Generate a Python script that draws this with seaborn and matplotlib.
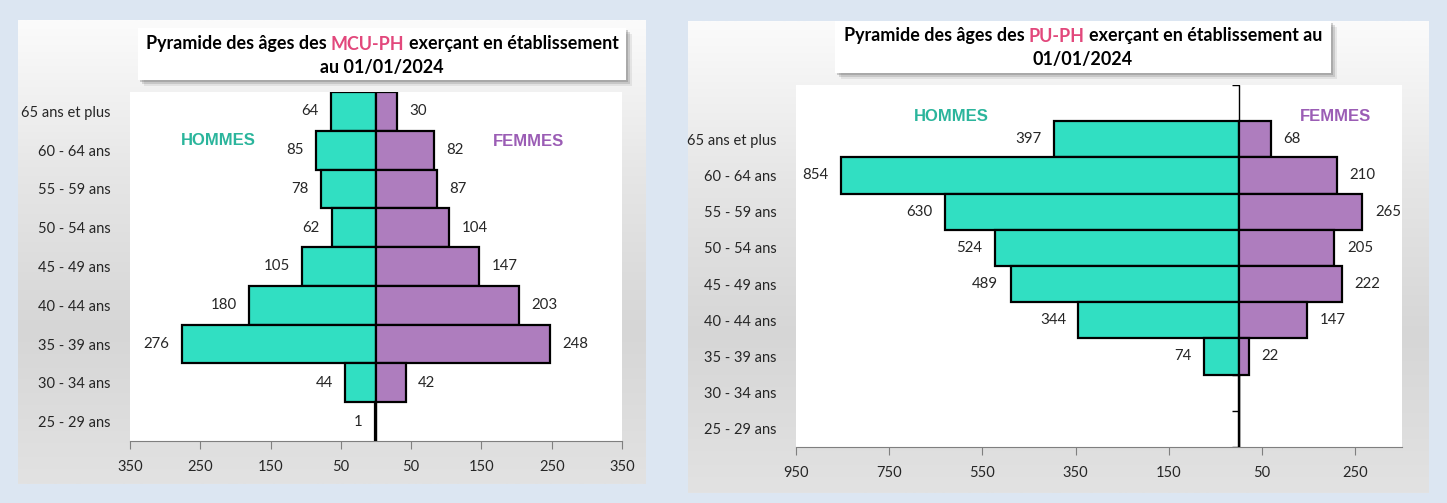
import numpy as np
import pandas as pd
import matplotlib.pyplot as plt
import seaborn as sns
from matplotlib.patches import Rectangle
from matplotlib.colors import LinearSegmentedColormap

ages = ["65 ans et plus", "60 - 64 ans", "55 - 59 ans", "50 - 54 ans", "45 - 49 ans",
        "40 - 44 ans", "35 - 39 ans", "30 - 34 ans", "25 - 29 ans"]
mcu_hommes = [64, 85, 78, 62, 105, 180, 276, 44, 1]
mcu_femmes = [30, 82, 87, 104, 147, 203, 248, 42, 0]
pu_hommes = [397, 854, 630, 524, 489, 344, 74, 0, 0]
pu_femmes = [68, 210, 265, 205, 222, 147, 22, 0, 0]
mcu_ticks = [-350, -250, -150, -50, 50, 150, 250, 350]
pu_ticks = [-950, -750, -550, -350, -150, 50, 250]

TEAL = "#31DFC2"
PURPLE = "#AE7DBE"
PINK = "#E2487C"

sns.set_style("white")
plt.rcParams['font.family'] = ['Lato', 'DejaVu Sans']

W, H = 1447, 503
fig = plt.figure(figsize=(W / 100, H / 100), dpi=100)
fig.patch.set_facecolor("#DCE6F2")


def frect(x0, y0, x1, y1):
    return [x0 / W, 1 - y1 / H, (x1 - x0) / W, (y1 - y0) / H]


# panneaux gris en degrade
grad = LinearSegmentedColormap.from_list("g", ["#fbfbfb", "#e6e6e6", "#d6d6d6", "#e2e2e2"])
for box in [(18, 20, 646, 484), (688, 21, 1429, 493)]:
    bg = fig.add_axes(frect(*box), zorder=0)
    bg.imshow(np.linspace(0, 1, 200).reshape(-1, 1), aspect='auto', cmap=grad)
    bg.axis('off')


def titre(box, lines, ys):
    x0, y0, x1, y1 = box
    for k, a in [(6, 0.10), (4, 0.18), (2, 0.25)]:
        r = frect(x0 + k, y0 + k, x1 + k, y1 + k)
        fig.patches.append(Rectangle((r[0], r[1]), r[2], r[3], transform=fig.transFigure,
                                     facecolor="#505050", alpha=a, edgecolor='none', zorder=3))
    r = frect(*box)
    fig.patches.append(Rectangle((r[0], r[1]), r[2], r[3], transform=fig.transFigure,
                                 facecolor="white", edgecolor='none', zorder=4))
    renderer = fig.canvas.get_renderer()
    kw = dict(fontsize=12.9, fontweight='bold', va='center', ha='left', zorder=5)

    def width(s):
        t = fig.text(0, 0, s, **kw)
        w = t.get_window_extent(renderer).width
        t.remove()
        return w

    cx = (x0 + x1) / 2
    for pieces, y in zip(lines, ys):
        full = "".join(p for p, c in pieces)
        start = cx - width(full) / 2
        prefix = ""
        for p, c in pieces:
            lead = p[:len(p) - len(p.lstrip())]
            vis = p.strip()
            off = width(prefix + lead + vis[0]) - width(vis[0]) if (prefix + lead) else 0
            fig.text((start + off) / W, 1 - y / H, vis, color=c, **kw)
            prefix += p


def pyramide(ax, hommes, femmes, ticks, ylim, pos_h, pos_f, centre=False):
    df = pd.DataFrame({'age': ages * 2,
                       'n': [-v for v in hommes] + femmes,
                       'sexe': ['H'] * len(ages) + ['F'] * len(ages)})
    sns.barplot(data=df, x='n', y='age', hue='sexe', palette={'H': TEAL, 'F': PURPLE},
                dodge=False, width=1, edgecolor='black', linewidth=1.6, errorbar=None,
                saturation=1, legend=False, orient='h', ax=ax, zorder=3)
    for cont, vals in zip(ax.containers, [hommes, femmes]):
        ax.bar_label(cont, labels=[str(v) if v else "" for v in vals], padding=9,
                     fontsize=10.8, color="#262626")
    ax.set_xlim(ticks[0], -ticks[0] if not centre else 350)
    ax.set_ylim(*ylim)
    ax.set_xticks(ticks)
    ax.set_xticklabels([str(abs(t)) for t in ticks])
    ax.set_xlabel("")
    ax.set_ylabel("")
    for s in ['top', 'left', 'right']:
        ax.spines[s].set_visible(False)
    ax.spines['bottom'].set_color("#7f7f7f")
    ax.tick_params(axis='x', direction='out', length=6, color="#7f7f7f", labelsize=10.5,
                   labelcolor="#262626", pad=8, bottom=True)
    ax.tick_params(axis='y', length=0, labelsize=10.5, labelcolor="#262626", pad=14)
    ax.set_facecolor("white")
    if centre:
        ax.axvline(0, color='black', lw=1, zorder=1)
        ax.plot(np.zeros(len(ages) + 2), np.arange(-1.5, len(ages), 1), lw=0,
                marker=0, ms=5, mew=1, color='black', zorder=1)
    ax.text(pos_h[0], pos_h[1], "HOMMES", transform=ax.transAxes, ha='center', va='center',
            fontsize=12, fontweight='bold', color="#2BB59C", family='Liberation Sans')
    ax.text(pos_f[0], pos_f[1], "FEMMES", transform=ax.transAxes, ha='center', va='center',
            fontsize=12, fontweight='bold', color="#9B5DB5", family='Liberation Sans')


ax1 = fig.add_axes(frect(130, 92, 622, 441), zorder=2)
pyramide(ax1, mcu_hommes, mcu_femmes, mcu_ticks, (8.5, -0.5), (0.18, 0.862), (0.81, 0.857))

ax2 = fig.add_axes(frect(796, 85, 1402, 447), zorder=2)
pyramide(ax2, pu_hommes, pu_femmes, pu_ticks, (8.5, -1.5), (0.256, 0.914), (0.891, 0.914), centre=True)

titre((138, 28, 626, 80),
      [[("Pyramide des âges des ", "black"), ("MCU-PH", PINK), (" exerçant en établissement", "black")],
       [("au 01/01/2024", "black")]], [44, 67])
titre((835, 21, 1331, 73),
      [[("Pyramide des âges des ", "black"), ("PU-PH", PINK), (" exerçant en établissement au", "black")],
       [("01/01/2024", "black")]], [36, 60])

plt.savefig("out.png", dpi=100, facecolor=fig.get_facecolor())
